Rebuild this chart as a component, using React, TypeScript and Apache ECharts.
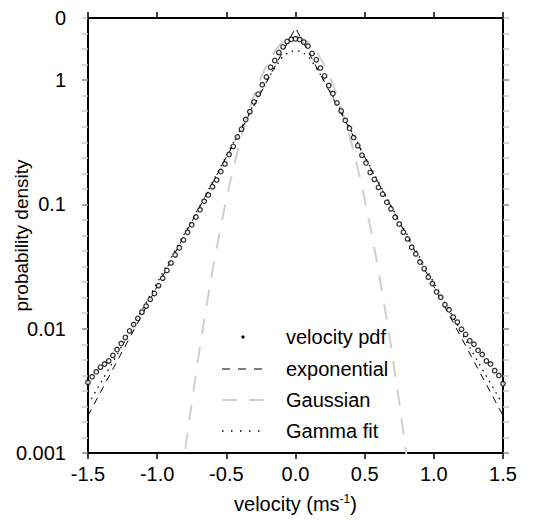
import React, { useEffect, useRef } from "react";
import * as echarts from "echarts";

// velocity pdf (measured points)
const pdfVelocity = [
  -1.5, -1.47, -1.44, -1.41, -1.38, -1.35, -1.32, -1.29, -1.26, -1.23,
  -1.2, -1.17, -1.14, -1.11, -1.08, -1.05, -1.02, -0.99, -0.96, -0.93,
  -0.9, -0.87, -0.84, -0.81, -0.78, -0.75, -0.72, -0.69, -0.66, -0.63,
  -0.6, -0.57, -0.54, -0.51, -0.48, -0.45, -0.42, -0.39, -0.36, -0.33,
  -0.3, -0.27, -0.24, -0.21, -0.18, -0.15, -0.12, -0.09, -0.06, -0.03,
  0.0,
  0.03, 0.06, 0.09, 0.12, 0.15, 0.18, 0.21, 0.24, 0.27, 0.3,
  0.33, 0.36, 0.39, 0.42, 0.45, 0.48, 0.51, 0.54, 0.57, 0.6,
  0.63, 0.66, 0.69, 0.72, 0.75, 0.78, 0.81, 0.84, 0.87, 0.9,
  0.93, 0.96, 0.99, 1.02, 1.05, 1.08, 1.11, 1.14, 1.17, 1.2,
  1.23, 1.26, 1.29, 1.32, 1.35, 1.38, 1.41, 1.44, 1.47, 1.5,
];
const pdfDensity = [
  0.0037, 0.0041, 0.0045, 0.0049, 0.0052, 0.0055, 0.0061, 0.0068, 0.0076, 0.0085,
  0.0096, 0.0108, 0.0121, 0.0136, 0.0152, 0.0172, 0.0192, 0.0222, 0.0255, 0.0294,
  0.0338, 0.0392, 0.0448, 0.0518, 0.0596, 0.0685, 0.0792, 0.0905, 0.106, 0.119,
  0.139, 0.157, 0.184, 0.212, 0.252, 0.293, 0.349, 0.403, 0.482, 0.558,
  0.668, 0.771, 0.918, 1.06, 1.27, 1.44, 1.67, 1.85, 2.05, 2.13,
  2.15,
  2.12, 2.02, 1.88, 1.64, 1.46, 1.25, 1.08, 0.905, 0.78, 0.655,
  0.565, 0.475, 0.41, 0.345, 0.297, 0.249, 0.215, 0.181, 0.159, 0.137,
  0.121, 0.104, 0.092, 0.0788, 0.0695, 0.0598, 0.0528, 0.0452, 0.04, 0.0344,
  0.0304, 0.026, 0.0231, 0.0198, 0.0179, 0.0156, 0.0142, 0.0124, 0.0113, 0.0099,
  0.009, 0.008, 0.0075, 0.0067, 0.0062, 0.0055, 0.0052, 0.0046, 0.0042, 0.0036,
];

// exponential fit
const expVelocity = [-1.5, 0, 1.5];
const expDensity = [0.002, 2.63, 0.002];

// Gaussian fit
const gaussVelocity = [
  -0.85, -0.8, -0.75, -0.7, -0.65, -0.6, -0.55, -0.5, -0.45, -0.4, -0.35, -0.3,
  -0.25, -0.2, -0.15, -0.1, -0.05, 0, 0.05, 0.1, 0.15, 0.2, 0.25, 0.3, 0.35,
  0.4, 0.45, 0.5, 0.55, 0.6, 0.65, 0.7, 0.75, 0.8, 0.85,
];
const gaussDensity = [
  0.00037, 0.001, 0.00255, 0.0061, 0.0138, 0.0292, 0.0585, 0.11, 0.195, 0.326,
  0.512, 0.757, 1.05, 1.38, 1.71, 1.99, 2.17, 2.24, 2.17, 1.99, 1.71, 1.38,
  1.05, 0.757, 0.512, 0.326, 0.195, 0.11, 0.0585, 0.0292, 0.0138, 0.0061,
  0.00255, 0.001, 0.00037,
];

// Gamma fit
const gammaVelocity = [
  -1.5, -1.4, -1.3, -1.2, -1.1, -1.0, -0.9, -0.8, -0.7, -0.6, -0.5, -0.4, -0.3,
  -0.25, -0.2, -0.15, -0.1, -0.05, 0, 0.05, 0.1, 0.15, 0.2, 0.25, 0.3, 0.4, 0.5,
  0.6, 0.7, 0.8, 0.9, 1.0, 1.1, 1.2, 1.3, 1.4, 1.5,
];
const gammaDensity = [
  0.00245, 0.0038, 0.00589, 0.00933, 0.0148, 0.0234, 0.0372, 0.0589, 0.0933,
  0.151, 0.245, 0.398, 0.646, 0.813, 1.02, 1.26, 1.51, 1.68, 1.74, 1.68, 1.51,
  1.26, 1.02, 0.813, 0.646, 0.398, 0.245, 0.151, 0.0933, 0.0589, 0.0372, 0.0234,
  0.0148, 0.00933, 0.00589, 0.0038, 0.00245,
];

const xTicks = [-1.5, -1.0, -0.5, 0.0, 0.5, 1.0, 1.5];
const yLabelValues = [0.001, 0.01, 0.1, 1, 3.1623];
const yTickValues = [0.001, 0.01, 0.1, 1];
const legendNames = ["velocity pdf", "exponential", "Gaussian", "Gamma fit"];

const FONT = "'Liberation Sans', Arial, Helvetica, sans-serif";

const pairs = (xs: number[], ys: number[]) => xs.map((x, i) => [x, ys[i]]);

export default function App() {
  const ref = useRef<HTMLDivElement>(null);
  useEffect(() => {
    if (!ref.current) return;
    const chart = echarts.init(ref.current, null, { renderer: "svg" });
    const axisLine = { show: true, onZero: false, lineStyle: { color: "#000", width: 2 } };
    const blackTick = { show: true, inside: false, length: 6, lineStyle: { color: "#000", width: 1.5 } };
    const grayTick = { show: true, inside: false, length: 6, lineStyle: { color: "#c8c8c8", width: 1.5 } };
    const legendRowY = [337, 369, 400, 431];
    const symX0 = 222;
    const symX1 = 265;
    const textX = 286;
    const legendGraphics: any[] = [
      { type: "circle", shape: { cx: 243, cy: legendRowY[0], r: 1.6 }, style: { fill: "#000" } },
      {
        type: "line",
        shape: { x1: symX0, y1: legendRowY[1], x2: symX1, y2: legendRowY[1] },
        style: { stroke: "#000", lineWidth: 1.2, lineDash: [8, 8] },
      },
      {
        type: "line",
        shape: { x1: symX0, y1: legendRowY[2], x2: symX1, y2: legendRowY[2] },
        style: { stroke: "#cfcfcf", lineWidth: 2, lineDash: [15, 12] },
      },
      {
        type: "line",
        shape: { x1: symX0, y1: legendRowY[3], x2: symX1, y2: legendRowY[3] },
        style: { stroke: "#000", lineWidth: 1.3, lineDash: [1.5, 7.5] },
      },
      ...legendNames.map((name, i) => ({
        type: "text",
        x: textX,
        y: legendRowY[i],
        style: {
          text: name,
          fill: "#000",
          font: `20px ${FONT}`,
          verticalAlign: "middle",
          align: "left",
        },
      })),
    ];

    chart.setOption({
      animation: false,
      textStyle: { fontFamily: FONT },
      grid: { left: 88, right: 45, top: 18, bottom: 70, containLabel: false, outerBoundsMode: "none" },
      xAxis: [
        {
          type: "value",
          position: "bottom",
          min: -1.5,
          max: 1.5,
          interval: 0.5,
          axisLine,
          axisTick: blackTick,
          splitLine: { show: false },
          axisLabel: {
            color: "#000",
            fontSize: 20,
            fontFamily: FONT,
            margin: 11,
            customValues: xTicks,
            formatter: (v: number) => v.toFixed(1),
          },
          name: "{a|velocity (ms}{s|-1}{a|)}",
          nameLocation: "middle",
          nameGap: 40,
          nameMoveOverlap: false,
          nameTextStyle: {
            rich: {
              a: { fontSize: 20, color: "#000", fontFamily: FONT },
              s: { fontSize: 12, color: "#000", fontFamily: FONT, padding: [0, 0, 10, 0] },
            },
          },
        },
        {
          type: "value",
          position: "top",
          min: -1.5,
          max: 1.5,
          interval: 0.5,
          axisLine,
          axisTick: blackTick,
          axisLabel: { show: false },
          splitLine: { show: false },
        },
      ],
      yAxis: [
        {
          type: "log",
          logBase: 10,
          position: "left",
          min: 0.001,
          max: 3.1623,
          axisLine,
          axisTick: { ...blackTick, customValues: yTickValues },
          splitLine: { show: false },
          axisLabel: {
            color: "#000",
            fontSize: 20,
            fontFamily: FONT,
            margin: 22,
            customValues: yLabelValues,
            formatter: (v: number) => (v > 2 ? "0" : String(Number(v.toPrecision(3)))),
          },
          name: "probability density",
          nameLocation: "middle",
          nameGap: 57,
          nameMoveOverlap: false,
          nameTextStyle: { fontSize: 19, color: "#000", fontFamily: FONT },
        },
        {
          type: "log",
          logBase: 10,
          position: "right",
          min: 0.001,
          max: 3.1623,
          axisLine,
          axisTick: { ...blackTick, customValues: yTickValues },
          axisLabel: { show: false },
          splitLine: { show: false },
        },
        {
          type: "value",
          position: "left",
          min: -3,
          max: 0.5,
          interval: 0.125,
          axisLine: { show: false, onZero: false },
          axisTick: grayTick,
          axisLabel: { show: false },
          splitLine: { show: false },
          z: 0,
        },
        {
          type: "value",
          position: "right",
          min: -3,
          max: 0.5,
          interval: 0.125,
          axisLine: { show: false, onZero: false },
          axisTick: grayTick,
          axisLabel: { show: false },
          splitLine: { show: false },
          z: 0,
        },
      ],
      series: [
        {
          name: "Gaussian",
          type: "line",
          xAxisIndex: 0,
          yAxisIndex: 0,
          data: pairs(gaussVelocity, gaussDensity),
          showSymbol: false,
          symbol: "none",
          clip: true,
          lineStyle: { color: "#cfcfcf", width: 2, type: [16, 13] },
          z: 1,
        },
        {
          name: "exponential",
          type: "line",
          xAxisIndex: 0,
          yAxisIndex: 0,
          data: pairs(expVelocity, expDensity),
          showSymbol: false,
          symbol: "none",
          lineStyle: { color: "#000", width: 1, type: [7, 6] },
          z: 2,
        },
        {
          name: "Gamma fit",
          type: "line",
          xAxisIndex: 0,
          yAxisIndex: 0,
          data: pairs(gammaVelocity, gammaDensity),
          showSymbol: false,
          symbol: "none",
          lineStyle: { color: "#000", width: 1.3, type: [1.5, 5] },
          z: 3,
        },
        {
          name: "velocity pdf",
          type: "scatter",
          xAxisIndex: 0,
          yAxisIndex: 0,
          data: pairs(pdfVelocity, pdfDensity),
          symbol: "circle",
          symbolSize: 4.5,
          itemStyle: { color: "#fff", borderColor: "#000", borderWidth: 1.3 },
          z: 4,
        },
      ],
      graphic: legendGraphics,
    });
    return () => chart.dispose();
  }, []);
  return (
    <div
      ref={ref}
      style={{ position: "fixed", left: 0, top: 0, width: 548, height: 523, background: "#fff" }}
    />
  );
}
